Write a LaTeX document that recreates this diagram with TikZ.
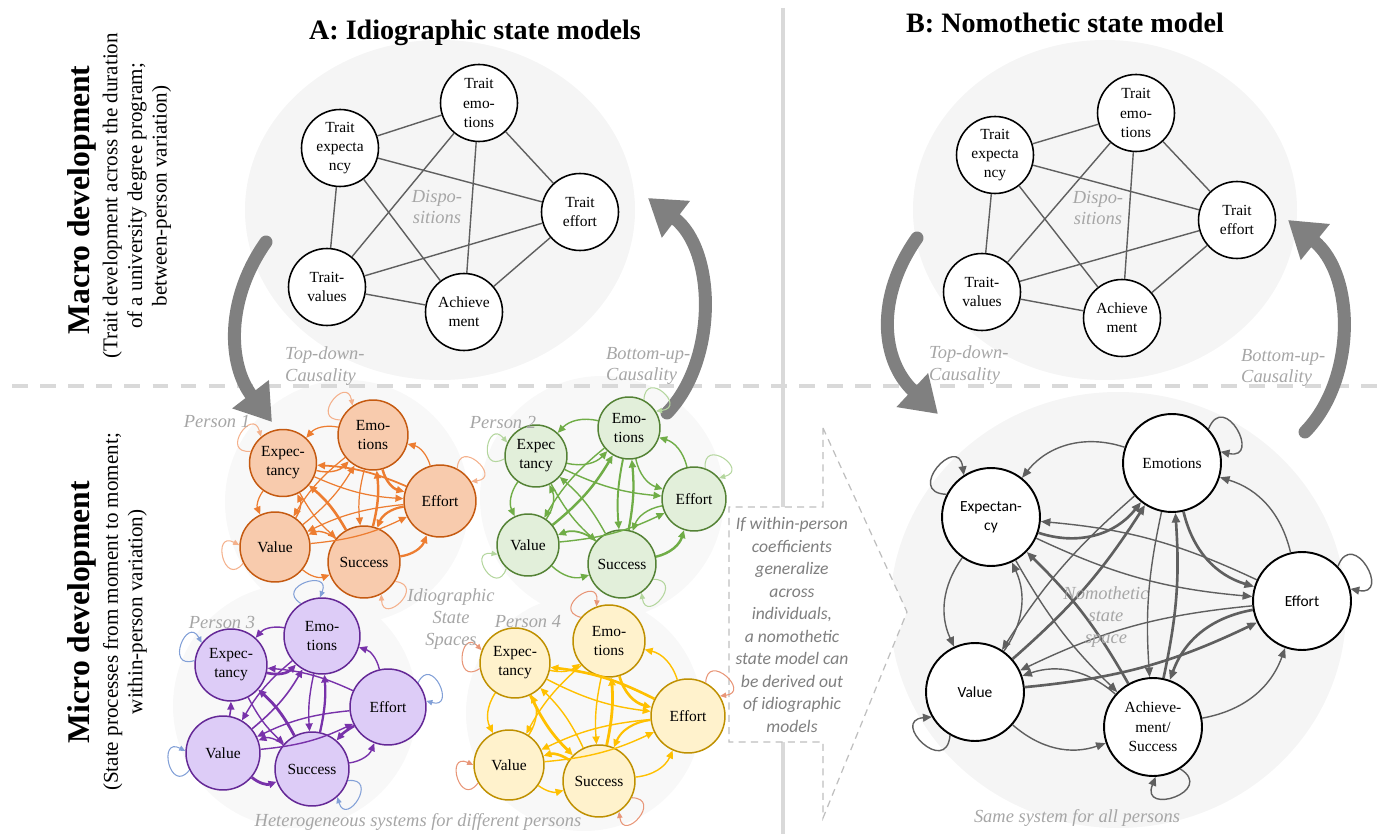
\documentclass[tikz,border=0pt]{standalone}
\usepackage{fontspec}
\setmainfont{LiberationSerif}[Extension=.ttf,UprightFont=*-Regular,BoldFont=*-Bold,ItalicFont=*-Italic,BoldItalicFont=*-BoldItalic]
\newfontfamily\calibri{Carlito}
\usepackage{xcolor}
\usepackage{tikz}
\usetikzlibrary{arrows.meta}
\usetikzlibrary{positioning}
\definecolor{bgray}{RGB}{245,245,245}
\definecolor{pgray}{RGB}{248,248,248}
\definecolor{lblgray}{RGB}{166,166,166}
\definecolor{callgray}{RGB}{127,127,127}
\definecolor{linegray}{RGB}{217,217,217}
\definecolor{arrgray}{RGB}{128,128,128}
\definecolor{edgegray}{RGB}{95,95,95}
\definecolor{orfill}{RGB}{248,203,173}
\definecolor{ordraw}{RGB}{197,90,17}
\definecolor{orarr}{RGB}{237,125,49}
\definecolor{orloop}{RGB}{244,177,140}
\definecolor{grfill}{RGB}{226,239,218}
\definecolor{grdraw}{RGB}{84,130,53}
\definecolor{grarr}{RGB}{112,173,71}
\definecolor{grloop}{RGB}{180,214,158}
\definecolor{pufill}{RGB}{221,204,247}
\definecolor{pudraw}{RGB}{100,40,150}
\definecolor{puarr}{RGB}{120,50,170}
\definecolor{puloop}{RGB}{130,160,215}
\definecolor{yefill}{RGB}{255,242,204}
\definecolor{yedraw}{RGB}{191,144,0}
\definecolor{yearr}{RGB}{255,192,0}
\definecolor{yeloop}{RGB}{232,150,120}

% small self-loop on the border of a node
\newcommand{\sloop}[4][18]{%
  \pgfmathsetmacro{\la}{#3+15}\pgfmathsetmacro{\lb}{#3-15}%
  \pgfmathsetmacro{\lc}{#3+40}\pgfmathsetmacro{\ld}{#3-40}%
  \draw[#4] (#2.\la) .. controls +(\lc:#1pt) and +(\ld:#1pt) .. (#2.\lb);}

\begin{document}
\begin{tikzpicture}[x=0.02cm,y=-0.02cm,
  trait/.style={circle,draw,line width=0.9pt,fill=white,minimum size=1.54cm,inner sep=0pt,align=center,font=\fontsize{8.8}{11}\selectfont},
  tline/.style={edgegray,line width=0.8pt},
  lbl/.style={lblgray,font=\fontsize{10.5}{12.3}\selectfont\itshape,align=center},
  bigarrow/.style={arrgray,line width=7.4pt,line cap=round,-{Triangle[length=20pt,width=25pt]}},
  state/.style={circle,draw,line width=0.85pt,inner sep=0pt,align=center,font=\fontsize{8.8}{10.8}\selectfont},
  parr/.style={line width=0.8pt,-{Triangle[length=4.5pt,width=4pt]}},
  ploop/.style={line width=0.6pt,-{Triangle[length=3.5pt,width=3pt]}},
  nstate/.style={circle,draw,line width=1.1pt,fill=white,minimum size=1.96cm,inner sep=0pt,align=center,font=\fontsize{8.8}{11}\selectfont},
  narr/.style={edgegray,-{Triangle[length=5.5pt,width=4.5pt]}},
  nloop/.style={edgegray,line width=0.8pt,-{Triangle[length=5pt,width=4.5pt]}}]
\useasboundingbox (0,0) rectangle (1383,834);

% background spaces
\fill[bgray] (440,210) ellipse[x radius=195, y radius=170];
\fill[bgray] (1105,210) ellipse[x radius=192, y radius=170];
\fill[bgray] (1118,610) ellipse[x radius=228, y radius=218];
\fill[pgray] (347,502) circle[radius=122];
\fill[pgray] (602,498) circle[radius=122];
\fill[pgray] (295,706) circle[radius=122];
\fill[pgray] (584,713) circle[radius=118];

% separators
\draw[linegray,line width=2.8pt,dash pattern=on 9pt off 7pt] (12,386) -- (1383,386);
\draw[linegray,line width=2.3pt] (783,8) -- (783,834);

% titles
\node[font=\fontsize{16}{19}\selectfont\bfseries] (titleA) at (475,33) {A: Idiographic state models};
\node[font=\fontsize{16}{19}\selectfont\bfseries] (titleB) at (1065,23) {B: Nomothetic state model};
\node[rotate=90,font=\fontsize{18}{21}\selectfont\bfseries] (macro) at (82,200) {Macro development};
\node[rotate=90,align=center,font=\fontsize{12}{14}\selectfont] (macrosub) at (137,196) {(Trait development across the duration\\of a university degree program;\\between-person variation)};
\node[rotate=90,font=\fontsize{18}{21}\selectfont\bfseries] (micro) at (82,612) {Micro development};
\node[rotate=90,align=center,font=\fontsize{12}{14}\selectfont] (microsub) at (125,612) {(State processes from moment to moment;\\within-person variation)};

% callout
\draw[gray!50,dash pattern=on 4pt off 3pt,fill=white,line width=0.7pt] (823,428) -- (907,612) -- (823,818) -- (823,742) -- (729,742) -- (729,507) -- (823,507) -- cycle;
\node[callgray,font=\calibri\itshape\fontsize{10}{12.8}\selectfont,align=center] (callout) at (792,625) {If within-person\\coefficients\\generalize\\across\\individuals,\\a nomothetic\\state model can\\be derived out\\of idiographic\\models};

% causality arrows
\coordinate (tdA1) at (266,242); \coordinate (tdA2) at (272,422);
\coordinate (buA1) at (667,413); \coordinate (buA2) at (648,198);
\coordinate (tdB1) at (917,238); \coordinate (tdB2) at (938,414);
\coordinate (buB1) at (1305,432); \coordinate (buB2) at (1288,220);
\draw[bigarrow] (tdA1) .. controls (225,300) and (228,365) .. (tdA2);
\draw[bigarrow] (buA1) .. controls (718,360) and (716,250) .. (buA2);
\draw[bigarrow] (tdB1) .. controls (876,296) and (880,360) .. (tdB2);
\draw[bigarrow] (buB1) .. controls (1356,380) and (1356,275) .. (buB2);
\node[lbl,align=left,anchor=west] (tdAl) at (279,366) {Top-down-\\Causality};
\node[lbl,align=left,anchor=west] (buAl) at (600,366) {Bottom-up-\\Causality};
\node[lbl,align=left,anchor=west] (tdBl) at (923,365) {Top-down-\\Causality};
\node[lbl,align=left,anchor=west] (buBl) at (1235,368) {Bottom-up-\\Causality};

% dispositions A
\node[trait] (aexp) at (340,148) {Trait\\expecta\\ncy};
\node[trait] (aemo) at (479,103) {Trait\\emo-\\tions};
\node[trait] (aeff) at (580,212) {Trait\\effort};
\node[trait] (aval) at (327,287) {Trait-\\values};
\node[trait] (aach) at (464,312) {Achieve\\ment};
\foreach \s/\t in {exp/emo,exp/eff,exp/val,exp/ach,emo/eff,emo/val,emo/ach,eff/val,eff/ach,val/ach}
  \draw[tline] (a\s) -- (a\t);
\node[lbl] (adisp) at (437,207) {Dispo-\\sitions};

% dispositions B
\node[trait] (bexp) at (995,155) {Trait\\expecta\\ncy};
\node[trait] (bemo) at (1136,113) {Trait\\emo-\\tions};
\node[trait] (beff) at (1237,220) {Trait\\effort};
\node[trait] (bval) at (982,292) {Trait-\\values};
\node[trait] (bach) at (1122,318) {Achieve\\ment};
\foreach \s/\t in {exp/emo,exp/eff,exp/val,exp/ach,emo/eff,emo/val,emo/ach,eff/val,eff/ach,val/ach}
  \draw[tline] (b\s) -- (b\t);
\node[lbl] (bdisp) at (1098,208) {Dispo-\\sitions};

% Person 1
\node[state,fill=orfill,draw=ordraw,minimum size=1.34cm] (p1exp) at (283,463) {Expec-\\tancy};
\node[state,fill=orfill,draw=ordraw,minimum size=1.40cm] (p1emo) at (373,435) {Emo-\\tions};
\node[state,fill=orfill,draw=ordraw,minimum size=1.44cm] (p1eff) at (440,501) {Effort};
\node[state,fill=orfill,draw=ordraw,minimum size=1.40cm] (p1val) at (275,547) {Value};
\node[state,fill=orfill,draw=ordraw,minimum size=1.44cm] (p1suc) at (364,562) {Success};
\foreach \s/\t/\b/\w in {emo/exp/30/0.7pt,exp/emo/30/0.8pt,exp/val/30/0.7pt,val/exp/30/0.8pt,
    emo/eff/30/1.4pt,eff/emo/30/0.7pt,eff/suc/30/1.3pt,suc/eff/30/1.3pt,suc/val/30/0.8pt,val/suc/30/0.7pt,
    exp/eff/10/0.7pt,eff/exp/10/1.0pt,exp/suc/10/0.7pt,suc/exp/10/1.5pt,emo/suc/10/0.7pt,suc/emo/10/1.4pt,
    emo/val/10/0.7pt,val/emo/10/0.7pt,eff/val/10/0.7pt,val/eff/10/0.7pt}
  \draw[parr,orarr,line width=\w] (p1\s) to[bend right=\b] (p1\t);
\foreach \n/\a in {exp/145,emo/140,eff/47,val/192,suc/-47}
  \sloop{p1\n}{\a}{ploop,orloop};
\node[lbl] (pers1) at (217,422) {Person 1};

% Person 2
\node[state,fill=grfill,draw=grdraw,minimum size=1.24cm] (p2exp) at (536,456) {Expec\\tancy};
\node[state,fill=grfill,draw=grdraw,minimum size=1.24cm] (p2emo) at (629,428) {Emo-\\tions};
\node[state,fill=grfill,draw=grdraw,minimum size=1.28cm] (p2eff) at (694,499) {Effort};
\node[state,fill=grfill,draw=grdraw,minimum size=1.24cm] (p2val) at (528,545) {Value};
\node[state,fill=grfill,draw=grdraw,minimum size=1.36cm] (p2suc) at (622,564) {Success};
\foreach \s/\t/\b/\w in {emo/exp/30/0.8pt,exp/emo/30/0.8pt,exp/val/30/0.8pt,val/exp/30/0.8pt,
    emo/eff/30/0.8pt,eff/emo/30/0.8pt,eff/suc/30/0.8pt,suc/eff/30/1.4pt,suc/val/30/1.0pt,val/suc/30/0.8pt,
    exp/eff/10/0.8pt,exp/suc/10/0.8pt,suc/exp/10/0.8pt,emo/suc/8/1.1pt,suc/emo/8/1.3pt,
    emo/val/10/0.8pt,val/emo/10/1.4pt,val/eff/10/0.8pt}
  \draw[parr,grarr,line width=\w] (p2\s) to[bend right=\b] (p2\t);
\foreach \n/\a in {exp/170,emo/47,eff/55,val/212,suc/-41}
  \sloop{p2\n}{\a}{ploop,grloop};
\node[lbl] (pers2) at (503,422) {Person 2};

% Person 3
\node[state,fill=pufill,draw=pudraw,minimum size=1.44cm] (p3exp) at (231,665) {Expec-\\tancy};
\node[state,fill=pufill,draw=pudraw,minimum size=1.52cm] (p3emo) at (322,636) {Emo-\\tions};
\node[state,fill=pufill,draw=pudraw,minimum size=1.52cm] (p3eff) at (388,707) {Effort};
\node[state,fill=pufill,draw=pudraw,minimum size=1.48cm] (p3val) at (223,753) {Value};
\node[state,fill=pufill,draw=pudraw,minimum size=1.48cm] (p3suc) at (312,769) {Success};
\foreach \s/\t/\b/\w in {emo/exp/30/0.8pt,exp/emo/30/1.5pt,val/exp/5/0.9pt,eff/emo/30/0.8pt,
    eff/suc/10/1.5pt,suc/eff/30/0.8pt,suc/val/30/0.8pt,val/suc/30/1.6pt,eff/exp/10/0.8pt,
    exp/suc/10/0.8pt,suc/exp/10/1.6pt,emo/suc/8/0.8pt,suc/emo/8/1.3pt,
    emo/val/10/0.8pt,val/emo/10/0.9pt,eff/val/10/0.8pt,val/eff/10/0.8pt}
  \draw[parr,puarr,line width=\w] (p3\s) to[bend right=\b] (p3\t);
\foreach \n/\a in {exp/158,emo/108,eff/24,val/192,suc/-33}
  \sloop{p3\n}{\a}{ploop,puloop};
\node[lbl] (pers3) at (222,622) {Person 3};

% Person 4
\node[state,fill=yefill,draw=yedraw,minimum size=1.40cm] (p4exp) at (515,663) {Expec-\\tancy};
\node[state,fill=yefill,draw=yedraw,minimum size=1.44cm] (p4emo) at (609,641) {Emo-\\tions};
\node[state,fill=yefill,draw=yedraw,minimum size=1.48cm] (p4eff) at (688,716) {Effort};
\node[state,fill=yefill,draw=yedraw,minimum size=1.40cm] (p4val) at (509,765) {Value};
\node[state,fill=yefill,draw=yedraw,minimum size=1.44cm] (p4suc) at (599,781) {Success};
\foreach \s/\t/\b/\w in {exp/emo/25/0.8pt,exp/val/30/0.8pt,val/exp/30/0.8pt,
    emo/eff/30/1.5pt,eff/emo/30/0.8pt,eff/suc/30/1.2pt,suc/eff/30/0.8pt,suc/val/25/1.5pt,val/suc/25/0.8pt,
    exp/eff/10/0.8pt,eff/exp/10/1.5pt,exp/suc/10/1.6pt,suc/exp/10/0.8pt,emo/suc/8/0.8pt,suc/emo/8/1.6pt,
    emo/val/10/0.8pt,eff/val/10/0.8pt,val/eff/10/0.8pt}
  \draw[parr,yearr,line width=\w] (p4\s) to[bend right=\b] (p4\t);
\foreach \n/\a in {exp/174,emo/125,eff/47,val/195,suc/-42}
  \sloop{p4\n}{\a}{ploop,yeloop};
\node[lbl] (pers4) at (528,622) {Person 4};

\node[lbl] (idio) at (451,619) {Idiographic\\State\\Spaces};
\node[lbl] (hetero) at (418,822) {Heterogeneous systems for different persons};

% nomothetic state model
\node[nstate] (nemo) at (1172,463) {Emotions};
\node[nstate,font=\calibri\fontsize{8.8}{11}\selectfont] (nexp) at (991,517) {Expectan-\\cy};
\node[nstate,font=\calibri\fontsize{8.8}{11}\selectfont] (neff) at (1302,601) {Effort};
\node[nstate,font=\calibri\fontsize{8.8}{11}\selectfont] (nval) at (975,692) {Value};
\node[nstate] (nach) at (1153,727) {Achieve-\\ment/\\Success};
\foreach \s/\t/\b/\w in {emo/exp/35/0.8pt,exp/emo/35/1.5pt,emo/eff/30/1.5pt,eff/emo/30/0.8pt,
    exp/eff/10/0.8pt,eff/exp/10/0.8pt,val/eff/10/1.5pt,eff/val/10/0.8pt,
    exp/val/30/0.8pt,val/exp/30/0.8pt,ach/val/30/0.8pt,val/ach/30/0.8pt,
    eff/ach/30/1.5pt,ach/eff/30/0.8pt,emo/ach/8/0.8pt,ach/emo/8/1.5pt,
    emo/val/8/0.8pt,val/emo/8/1.5pt,exp/ach/8/0.8pt,ach/exp/8/1.5pt}
  \draw[narr,line width=\w] (n\s) to[bend right=\b] (n\t);
\foreach \n/\a in {emo/28,exp/138,eff/29,val/225,ach/-72}
  \sloop[24]{n\n}{\a}{nloop};
\node[lbl] (nspace) at (1106,617) {Nomothetic\\state\\space};
\node[lbl] (same) at (1077,818) {Same system for all persons};
\end{tikzpicture}
\end{document}
